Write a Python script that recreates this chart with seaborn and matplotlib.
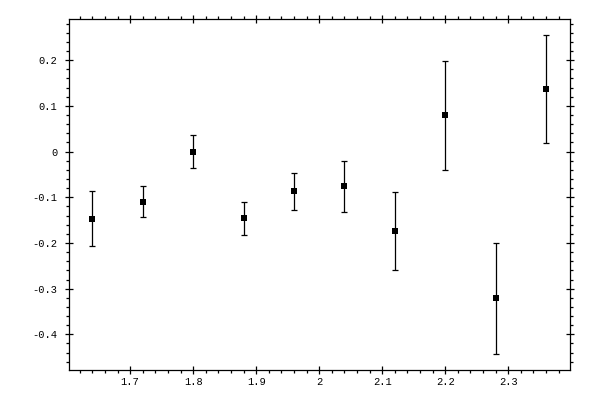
import matplotlib
matplotlib.use("Agg")
import matplotlib.pyplot as plt
from matplotlib.ticker import MultipleLocator, FuncFormatter
import seaborn as sns
import pandas as pd

x_vals = [1.64, 1.72, 1.80, 1.88, 1.96, 2.04, 2.12, 2.20, 2.28, 2.36]
y_vals = [-0.147, -0.110, 0.000, -0.146, -0.087, -0.076, -0.174, 0.079, -0.321, 0.136]
y_err = [0.060, 0.034, 0.036, 0.036, 0.040, 0.056, 0.085, 0.120, 0.121, 0.118]

df = pd.DataFrame({"x": x_vals, "y": y_vals, "err": y_err})

sns.set_theme(style="ticks")
plt.rcParams["font.family"] = ["Liberation Mono", "DejaVu Sans Mono"]
plt.rcParams["axes.unicode_minus"] = False

fig = plt.figure(figsize=(6, 4), dpi=100)
ax = fig.add_axes([69 / 600, 30 / 400, 501 / 600, 351 / 400])

ax.errorbar(df["x"], df["y"], yerr=df["err"], fmt="none", ecolor="black",
            elinewidth=0.9, capsize=2.0, capthick=0.9, zorder=2)
sns.scatterplot(data=df, x="x", y="y", marker="s", s=24, color="black",
                edgecolor="black", linewidth=0, ax=ax, zorder=3)

ax.set_xlim(1.603, 2.398)
ax.set_ylim(-0.478, 0.290)
ax.set_xlabel("")
ax.set_ylabel("")

ax.xaxis.set_major_locator(MultipleLocator(0.1))
ax.xaxis.set_minor_locator(MultipleLocator(0.02))
ax.yaxis.set_major_locator(MultipleLocator(0.1))
ax.yaxis.set_minor_locator(MultipleLocator(0.02))
fmt = FuncFormatter(lambda v, p: f"{round(v, 6):g}")
ax.xaxis.set_major_formatter(fmt)
ax.yaxis.set_major_formatter(fmt)

for s in ax.spines.values():
    s.set_visible(True)
    s.set_linewidth(0.9)
    s.set_color("black")

ax.tick_params(which="both", top=True, right=True, bottom=True, left=True,
               colors="black", width=0.9)
ax.tick_params(which="major", direction="inout", length=5.5, labelsize=7.5)
ax.tick_params(axis="x", which="major", pad=2.5)
ax.tick_params(axis="y", which="major", pad=5.5)
ax.tick_params(which="minor", direction="out", length=2.4)

fig.savefig("out.png", dpi=100)
